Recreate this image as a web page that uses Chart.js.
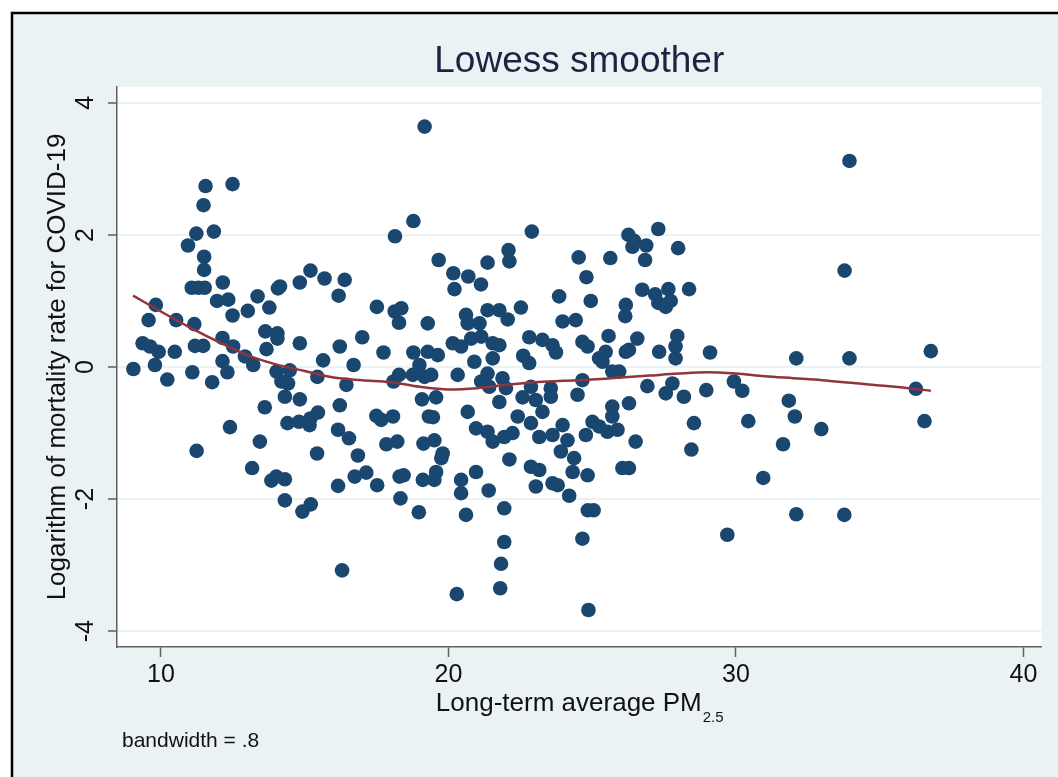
<!DOCTYPE html>
<html>
<head>
<meta charset="utf-8">
<title>Lowess smoother</title>
<script src="https://cdn.jsdelivr.net/npm/chart.js@4.4.0/dist/chart.umd.min.js"></script>
<style>
    html, body { margin: 0; padding: 0; background: #ffffff; }
    canvas { display: block; }
</style>
</head>
<body>
<canvas id="chart" width="1058" height="777"></canvas>
<script>
// Data
const pm25 = [
    19.17, 11.55, 12.49, 11.48, 11.23, 11.84, 10.94, 11.5, 11.5, 11.07,
    11.3, 11.52, 12.15, 11.95, 12.34, 9.82, 9.57, 10.53, 11.16, 12.49,
    13.02, 13.36, 13.77, 14.07, 14.14, 14.83, 15.2, 15.69, 16.39, 16.18,
    18.14, 18.78, 17.51, 18.13, 18.36, 18.28, 19.28, 9.36, 9.62, 9.92,
    10.48, 9.79, 9.04, 11.18, 11.47, 12.14, 12.51, 12.14, 12.92, 13.21,
    13.63, 14.05, 14.05, 13.67, 14.83, 15.64, 16.22, 17.0, 16.7, 17.74,
    18.78, 19.28, 18.99, 22.9, 19.66, 20.17, 20.69, 20.21, 21.13, 21.36,
    22.09, 22.12, 24.53, 24.8, 25.63, 26.26, 26.46, 26.4, 26.88, 26.84,
    27.3, 27.99, 23.85, 24.95, 26.74, 27.19, 27.3, 27.56, 27.65, 27.73,
    28.37, 26.17, 26.15, 20.61, 20.67, 21.08, 21.36, 21.77, 22.06, 22.52,
    23.97, 24.43, 22.81, 23.27, 23.62, 23.74, 24.66, 24.84, 25.57, 26.57,
    26.28, 27.33, 27.96, 27.9, 27.9, 29.1, 20.15, 20.44, 20.79, 21.14,
    21.54, 21.77, 19.63, 22.6, 22.81, 20.9, 21.54, 25.24, 25.47, 33.95,
    33.78, 32.1, 33.95, 36.78, 10.22, 11.09, 11.78, 12.31, 14.02, 14.48,
    14.19, 14.42, 14.31, 14.83, 15.44, 16.45, 16.22, 18.09, 18.28, 18.76,
    19.17, 19.08, 13.61, 12.4, 11.24, 13.44, 14.4, 14.8, 15.17, 15.2,
    15.46, 16.16, 16.54, 15.43, 16.85, 17.49, 17.66, 18.07, 17.84, 18.22,
    19.13, 19.32, 13.17, 13.84, 14.01, 14.31, 14.31, 14.92, 15.21, 16.16,
    16.74, 17.14, 17.52, 18.3, 18.44, 18.33, 19.11, 18.97, 16.3, 25.36,
    26.17, 19.4, 19.57, 19.46, 20.32, 20.67, 21.14, 21.36, 21.42, 21.77,
    21.88, 22.0, 20.96, 21.36, 21.54, 21.94, 22.23, 22.41, 22.12, 22.58,
    22.87, 23.04, 23.27, 23.56, 23.56, 22.87, 23.16, 23.62, 23.97, 24.14,
    23.91, 24.49, 22.87, 23.16, 23.04, 23.62, 23.8, 24.2, 24.37, 24.32,
    24.84, 24.78, 25.01, 25.24, 25.53, 25.7, 25.7, 25.88, 26.28, 26.51,
    26.05, 26.28, 24.85, 25.05, 24.66, 24.87, 20.61, 20.44, 20.44, 21.4,
    21.94, 21.94, 21.83, 21.8, 20.29, 19.51, 19.8, 19.75, 19.57, 19.51,
    20.96, 26.92, 27.56, 27.79, 28.19, 28.54, 28.45, 25.7, 25.94, 24.66,
    28.97, 29.93, 30.22, 30.43, 31.84, 32.05, 32.97, 31.64, 30.95, 36.26,
    36.56, 32.1, 33.77, 29.7
];
const logMortality = [
    3.64, 2.74, 2.77, 2.45, 2.02, 2.05, 1.84, 1.67, 1.47, 1.2,
    1.2, 1.2, 1.28, 1.0, 1.02, 0.94, 0.71, 0.71, 0.65, 0.78,
    0.85, 1.07, 0.9, 1.19, 1.22, 1.28, 1.46, 1.34, 1.32, 1.08,
    1.98, 2.21, 0.91, 0.84, 0.89, 0.67, 0.66, 0.36, 0.31, 0.23,
    0.23, 0.03, -0.03, 0.32, 0.32, 0.44, 0.31, 0.09, 0.16, 0.03,
    0.54, 0.51, 0.43, 0.27, 0.36, 0.1, 0.31, 0.45, 0.03, 0.22,
    0.22, 0.23, 0.03, 2.05, 1.62, 1.42, 1.37, 1.18, 1.25, 1.58,
    1.77, 1.6, 1.66, 1.36, 1.65, 2.0, 1.91, 1.82, 1.84, 1.62,
    2.09, 1.8, 1.07, 1.0, 1.17, 1.1, 0.97, 0.91, 1.18, 1.0,
    1.18, 0.94, 0.77, 0.79, 0.66, 0.66, 0.86, 0.86, 0.72, 0.9,
    0.69, 0.71, 0.45, 0.41, 0.33, 0.22, 0.38, 0.31, 0.47, 0.43,
    0.26, 0.23, 0.47, 0.31, 0.13, 0.22, 0.36, 0.31, 0.43, 0.46,
    0.36, 0.33, 0.18, 0.17, 0.06, 0.08, 0.13, 0.13, 0.23, 3.12,
    1.46, 0.13, 0.13, 0.24, -0.19, -0.08, -0.23, -0.08, -0.07, -0.05,
    -0.22, -0.25, -0.45, -0.49, -0.15, -0.27, -0.58, -0.22, -0.12, -0.12,
    -0.15, -0.49, -0.61, -0.91, -1.27, -1.13, -0.85, -0.83, -0.88, -0.78,
    -0.69, -0.95, -1.08, -1.31, -1.34, -0.74, -0.8, -0.75, -1.17, -1.13,
    -1.16, -0.75, -1.53, -1.72, -1.66, -1.7, -2.02, -2.19, -2.08, -1.8,
    -1.66, -1.6, -1.79, -1.66, -1.64, -1.99, -1.71, -2.2, -3.08, 0.08,
    0.23, -0.12, -0.46, -0.76, -0.12, -0.68, -0.22, -0.1, -0.3, -0.53,
    -0.17, -0.32, -0.93, -0.98, -1.13, -1.06, -1.0, -0.75, -1.4, -0.46,
    -0.3, -0.5, -0.68, -0.32, -0.45, -0.85, -1.06, -1.03, -0.88, -1.11,
    -1.28, -0.42, -1.51, -1.56, -1.81, -1.76, -1.79, -1.95, -1.38, -1.59,
    -1.64, -1.03, -0.83, -0.9, -0.98, -0.6, -0.75, -0.95, -0.55, -1.13,
    -1.53, -1.53, -2.17, -2.17, -2.6, -3.68, -2.24, -1.71, -1.91, -1.87,
    -2.14, -2.65, -2.98, -3.35, -3.44, -1.11, -1.31, -1.38, -1.59, -1.71,
    -1.59, -0.29, -0.4, -0.25, -0.45, -0.85, -1.25, -0.07, -0.07, -0.2,
    -0.35, -0.22, -0.36, -0.82, -0.51, -0.75, -0.94, -1.17, -1.68, -0.33,
    -0.82, -2.23, -2.24, -2.54
];

// Lowess curve (bandwidth .8)
const lowessX = [9.03, 10, 11, 12, 13, 14, 15, 16, 17, 18, 19, 20, 21, 22, 23,
    24, 25, 26, 27, 28, 29, 30, 31, 32, 33, 34, 35, 36, 36.78];
const lowessY = [1.08, 0.84, 0.6, 0.38, 0.18, 0.04, -0.06, -0.16, -0.2, -0.23, -0.3, -0.34, -0.32, -0.27, -0.23,
    -0.21, -0.19, -0.16, -0.13, -0.1, -0.08, -0.1, -0.14, -0.17, -0.2, -0.24, -0.28, -0.32, -0.36];

// Axes
const xTicks = [10, 20, 30, 40];
const yTicks = [-4, -2, 0, 2, 4];
const X_MIN = 8.47, X_MAX = 40.63;
const Y_MIN = -4.24, Y_MAX = 4.24;

// Texts
const TITLE = 'Lowess smoother';
const X_TITLE = 'Long-term average PM';
const X_TITLE_SUB = '2.5';
const Y_TITLE = 'Logarithm of mortality rate for COVID-19';
const NOTE = 'bandwidth = .8';

// Stata s2color look
const BG = '#eaf2f3';
const NAVY = '#1a476f';
const MAROON = '#90353b';
const AXIS = '#5f5f5f';
const FONT = '"Liberation Sans", Arial, Helvetica, sans-serif';

const scatterPoints = pm25.map((x, i) => ({ x: x, y: logMortality[i] }));
const lowessPoints = lowessX.map((x, i) => ({ x: x, y: lowessY[i] }));

// Background, frame and white plot region
const backgroundPlugin = {
    id: 'stataBackground',
    beforeDraw(chart) {
        const ctx = chart.ctx;
        const area = chart.chartArea;
        ctx.save();
        ctx.fillStyle = '#ffffff';
        ctx.fillRect(0, 0, chart.width, chart.height);
        ctx.fillStyle = BG;
        ctx.fillRect(12, 13, chart.width, chart.height);
        ctx.strokeStyle = '#000000';
        ctx.lineWidth = 2.5;
        ctx.beginPath();
        ctx.moveTo(12, chart.height + 5);
        ctx.lineTo(12, 13);
        ctx.lineTo(chart.width + 5, 13);
        ctx.stroke();
        ctx.fillStyle = '#ffffff';
        ctx.fillRect(area.left, area.top, area.right - area.left, area.bottom - area.top);
        ctx.restore();
    }
};

// Titles, rotated y labels, subscript and note
const textPlugin = {
    id: 'stataTexts',
    afterDraw(chart) {
        const ctx = chart.ctx;
        const area = chart.chartArea;
        const yScale = chart.scales.y;
        const cx = (area.left + area.right) / 2;
        const cy = (area.top + area.bottom) / 2;
        ctx.save();

        // Main title
        ctx.fillStyle = '#1b2442';
        ctx.font = '37px ' + FONT;
        ctx.textAlign = 'center';
        ctx.textBaseline = 'middle';
        ctx.fillText(TITLE, cx, 62);

        // Y tick labels, rotated like Stata
        ctx.fillStyle = '#111111';
        ctx.font = '25px ' + FONT;
        yTicks.forEach((v) => {
            const py = yScale.getPixelForValue(v);
            ctx.save();
            ctx.translate(86, py);
            ctx.rotate(-Math.PI / 2);
            ctx.textAlign = 'center';
            ctx.textBaseline = 'middle';
            ctx.fillText(String(v), 0, 0);
            ctx.restore();
        });

        // Y axis title
        ctx.save();
        ctx.translate(58, cy);
        ctx.rotate(-Math.PI / 2);
        ctx.font = '26px ' + FONT;
        ctx.textAlign = 'center';
        ctx.textBaseline = 'middle';
        ctx.fillText(Y_TITLE, 0, 0);
        ctx.restore();

        // X axis title with subscript
        ctx.font = '26px ' + FONT;
        const mainW = ctx.measureText(X_TITLE).width;
        ctx.font = '15px ' + FONT;
        const subW = ctx.measureText(X_TITLE_SUB).width;
        const startX = cx - (mainW + subW) / 2;
        ctx.textAlign = 'left';
        ctx.textBaseline = 'alphabetic';
        ctx.font = '26px ' + FONT;
        ctx.fillText(X_TITLE, startX, 711);
        ctx.font = '15px ' + FONT;
        ctx.fillText(X_TITLE_SUB, startX + mainW + 1, 722);

        // Note
        ctx.font = '21px ' + FONT;
        ctx.textBaseline = 'middle';
        ctx.fillText(NOTE, 122, 741);

        ctx.restore();
    }
};

const chart = new Chart(document.getElementById('chart'), {
    type: 'scatter',
    data: {
        datasets: [
            {
                label: 'lowess',
                data: lowessPoints,
                showLine: true,
                borderColor: MAROON,
                borderWidth: 2.5,
                pointRadius: 0,
                cubicInterpolationMode: 'monotone',
                order: 0
            },
            {
                label: 'Logarithm of mortality rate for COVID-19',
                data: scatterPoints,
                backgroundColor: NAVY,
                borderColor: NAVY,
                borderWidth: 0,
                pointRadius: 7.3,
                order: 1
            }
        ]
    },
    options: {
        responsive: false,
        animation: false,
        devicePixelRatio: 1,
        layout: {
            padding: { left: 117, top: 87, right: 16.5, bottom: 80 }
        },
        plugins: {
            legend: { display: false },
            title: { display: false },
            tooltip: { enabled: false }
        },
        scales: {
            x: {
                type: 'linear',
                min: X_MIN,
                max: X_MAX,
                afterBuildTicks: (scale) => { scale.ticks = xTicks.map((v) => ({ value: v })); },
                afterFit: (scale) => { scale.height = 50; },
                grid: {
                    drawOnChartArea: false,
                    drawTicks: true,
                    tickLength: 10,
                    tickColor: AXIS,
                    tickWidth: 1.5
                },
                border: { display: true, color: AXIS, width: 1.5 },
                ticks: {
                    color: '#111111',
                    padding: 3,
                    maxRotation: 0,
                    autoSkip: false,
                    font: { family: FONT, size: 25 }
                }
            },
            y: {
                type: 'linear',
                min: Y_MIN,
                max: Y_MAX,
                afterBuildTicks: (scale) => { scale.ticks = yTicks.map((v) => ({ value: v })); },
                afterFit: (scale) => { scale.width = 0; },
                grid: {
                    color: BG,
                    lineWidth: 2,
                    drawTicks: true,
                    tickLength: 9,
                    tickColor: AXIS,
                    tickWidth: 1.5
                },
                border: { display: true, color: AXIS, width: 1.5 },
                ticks: { display: false }
            }
        }
    },
    plugins: [backgroundPlugin, textPlugin]
});
</script>
</body>
</html>
